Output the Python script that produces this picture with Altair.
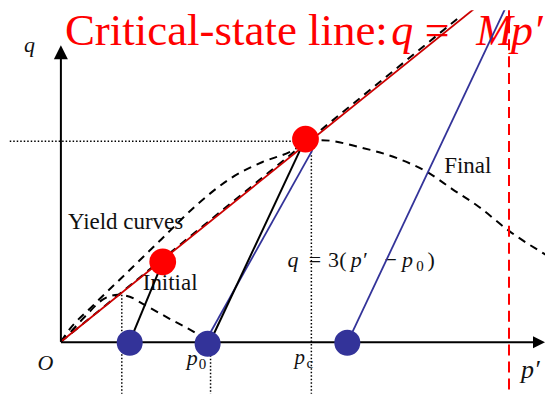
import altair as alt
import pandas as pd

# ---------------- diagram frame (p' horizontal, q vertical) ----------------
X_DOMAIN = [-0.3605, 3.2993]
Y_DOMAIN = [-0.5049, 3.2233]

# critical-state line q = M p'
csl_p = [0.0, 2.87]
csl_q = [0.0, 3.30]
# dashed guide lying on the CSL
csl_guide_p = [0.0, 2.714]
csl_guide_q = [0.0, 3.155]

# large (final) yield curve
big_yield_p = [0.0, 0.041, 0.231, 0.456, 0.687, 0.925, 1.150, 1.374, 1.558, 1.646,
               1.776, 2.034, 2.306, 2.497, 2.667, 2.850, 3.054, 3.306]
big_yield_q = [0.0, 0.087, 0.369, 0.680, 1.000, 1.330, 1.583, 1.748, 1.845, 1.913,
               1.961, 1.893, 1.777, 1.650, 1.485, 1.311, 1.078, 0.845]

# small (initial) yield curve
small_yield_p = [0.0, 0.048, 0.163, 0.293, 0.388, 0.469, 0.558, 0.741, 0.925, 1.0]
small_yield_q = [0.0, 0.068, 0.243, 0.417, 0.456, 0.437, 0.369, 0.223, 0.078, 0.0]

# stress paths (start -> end)
black_path_p = [0.469, 1.014]
black_path_q = [0.0, -0.01]
black_path_p2 = [0.694, 1.646]
black_path_q2 = [0.777, 1.913]

blue_path_p = [0.980, 1.952]
blue_path_q = [-0.01, -0.01]
blue_path_p2 = [1.714, 3.048]
blue_path_q2 = [1.864, 3.301]

# dotted guides
dot_p = [-0.42, 0.415, 1.020, 1.707]
dot_q = [1.951, 0.456, -0.03, 1.95]
dot_p2 = [1.62, 0.415, 1.020, 1.707]
dot_q2 = [1.951, -0.63, -0.63, -0.63]

# red dashed vertical
red_v_p = [3.054]
red_v_q = [-0.63]
red_v_q2 = [3.30]

# axes
axis_p = [0.0, 0.0]
axis_q = [0.0, -0.005]
axis_p2 = [0.0, 3.24]
axis_q2 = [2.80, -0.005]

# points
red_pts_p = [0.694, 1.667]
red_pts_q = [0.777, 1.971]
blue_pts_p = [0.469, 1.0, 1.952]
blue_pts_q = [-0.01, -0.02, -0.01]

# ---------------- text ----------------
title_text = ["Critical-state line:"]
title_p = [0.0272]
title_q = [2.8835]

title_it_text = ["q", "M", "p\u2032"]
title_it_p = [2.2517, 2.830, 3.068]
title_it_q = [2.8835, 2.8835, 2.8835]

title_up_text = ["="]
title_up_p = [2.5646]
title_up_q = [2.8835]

word_text = ["Yield curves", "Initial", "Final"]
word_p = [0.0476, 0.5578, 2.612]
word_q = [1.0971, 0.5049, 1.6408]

it_text = ["q", "O", "p", "p", "p\u2032", "q", "p\u2032", "p"]
it_p = [-0.2517, -0.160, 0.857, 1.592, 3.136, 1.5442, 1.975, 2.325]
it_q = [2.8155, -0.2718, -0.2233, -0.2136, -0.3495, 0.7282, 0.7282, 0.7282]
it_size = [22, 22, 22, 21, 26, 22, 22, 22]

up_text = ["=", "3", "(", "\u2212", ")"]
up_p = [1.7313, 1.8571, 1.9218, 2.2483, 2.5238]
up_q = [0.7282, 0.7282, 0.7282, 0.7282, 0.7282]

sub_text = ["0", "c", "0"]
sub_p = [0.939, 1.673, 2.4218]
sub_q = [-0.262, -0.252, 0.6893]

xs = alt.Scale(domain=X_DOMAIN, nice=False, zero=False)
ys = alt.Scale(domain=Y_DOMAIN, nice=False, zero=False)
X = alt.X("p:Q", scale=xs, axis=None)
Y = alt.Y("q:Q", scale=ys, axis=None)
X2 = alt.X2("p2:Q")
Y2 = alt.Y2("q2:Q")

SERIF = "Liberation Serif"


def seg_df(p, q, p2, q2):
    return pd.DataFrame({"p": p, "q": q, "p2": p2, "q2": q2})


layers = []

# text first (lines drawn over it)
layers.append(alt.Chart(pd.DataFrame({"p": title_p, "q": title_q, "t": title_text})).mark_text(
    align="left", baseline="alphabetic", font=SERIF, fontSize=45, color="#ff0000"
).encode(x=X, y=Y, text="t:N"))
layers.append(alt.Chart(pd.DataFrame({"p": title_it_p, "q": title_it_q, "t": title_it_text})).mark_text(
    align="left", baseline="alphabetic", font=SERIF, fontSize=44, fontStyle="italic", color="#ff0000"
).encode(x=X, y=Y, text="t:N"))
layers.append(alt.Chart(pd.DataFrame({"p": title_up_p, "q": title_up_q, "t": title_up_text})).mark_text(
    align="center", baseline="alphabetic", font=SERIF, fontSize=44, color="#ff0000"
).encode(x=X, y=Y, text="t:N"))
layers.append(alt.Chart(pd.DataFrame({"p": word_p, "q": word_q, "t": word_text})).mark_text(
    align="left", baseline="alphabetic", font=SERIF, fontSize=23, color="#111111"
).encode(x=X, y=Y, text="t:N"))
layers.append(alt.Chart(pd.DataFrame({"p": it_p, "q": it_q, "t": it_text, "s": it_size})).mark_text(
    align="left", baseline="alphabetic", font=SERIF, fontStyle="italic", color="#111111"
).encode(x=X, y=Y, text="t:N", size=alt.Size("s:Q", scale=None, legend=None)))
layers.append(alt.Chart(pd.DataFrame({"p": up_p, "q": up_q, "t": up_text})).mark_text(
    align="center", baseline="alphabetic", font=SERIF, fontSize=22, color="#111111"
).encode(x=X, y=Y, text="t:N"))
layers.append(alt.Chart(pd.DataFrame({"p": sub_p, "q": sub_q, "t": sub_text})).mark_text(
    align="left", baseline="alphabetic", font=SERIF, fontSize=15, color="#111111"
).encode(x=X, y=Y, text="t:N"))

# dotted guides
layers.append(alt.Chart(seg_df(dot_p, dot_q, dot_p2, dot_q2)).mark_rule(
    color="#000000", strokeWidth=1.5, strokeDash=[1.5, 2], clip=True
).encode(x=X, y=Y, x2=X2, y2=Y2))

# yield curves (dashed)
layers.append(alt.Chart(pd.DataFrame({"p": big_yield_p, "q": big_yield_q})).mark_line(
    color="#000000", strokeWidth=2, strokeDash=[8, 6], interpolate="monotone", clip=True
).encode(x=X, y=Y))
layers.append(alt.Chart(pd.DataFrame({"p": small_yield_p, "q": small_yield_q})).mark_line(
    color="#000000", strokeWidth=2, strokeDash=[8, 6], interpolate="monotone"
).encode(x=X, y=Y))
layers.append(alt.Chart(pd.DataFrame({"p": csl_guide_p, "q": csl_guide_q})).mark_line(
    color="#000000", strokeWidth=2, strokeDash=[8, 6]
).encode(x=X, y=Y))

# CSL
layers.append(alt.Chart(pd.DataFrame({"p": csl_p, "q": csl_q})).mark_line(
    color="#cc0000", strokeWidth=1.8, clip=True
).encode(x=X, y=Y))

# stress paths
layers.append(alt.Chart(seg_df(blue_path_p, blue_path_q, blue_path_p2, blue_path_q2)).mark_rule(
    color="#333399", strokeWidth=1.8, clip=True
).encode(x=X, y=Y, x2=X2, y2=Y2))
layers.append(alt.Chart(seg_df(black_path_p, black_path_q, black_path_p2, black_path_q2)).mark_rule(
    color="#000000", strokeWidth=2
).encode(x=X, y=Y, x2=X2, y2=Y2))

# red dashed vertical
layers.append(alt.Chart(pd.DataFrame({"p": red_v_p, "q": red_v_q, "q2": red_v_q2})).mark_rule(
    color="#ff0000", strokeWidth=2, strokeDash=[11, 6], clip=True
).encode(x=X, y=Y, y2=Y2))

# axes
layers.append(alt.Chart(seg_df(axis_p, axis_q, axis_p2, axis_q2)).mark_rule(
    color="#000000", strokeWidth=2
).encode(x=X, y=Y, x2=X2, y2=Y2))
layers.append(alt.Chart(pd.DataFrame({"p": [0.0], "q": [2.8155]})).mark_point(
    shape="M0,-1L1,1L-1,1Z", size=196, filled=True, color="#000000", opacity=1
).encode(x=X, y=Y))
layers.append(alt.Chart(pd.DataFrame({"p": [3.2585], "q": [-0.005]})).mark_point(
    shape="M-1,-1L1,0L-1,1Z", size=144, filled=True, color="#000000", opacity=1
).encode(x=X, y=Y))

# state points
layers.append(alt.Chart(pd.DataFrame({"p": blue_pts_p, "q": blue_pts_q})).mark_circle(
    size=680, color="#333399", opacity=1
).encode(x=X, y=Y))
layers.append(alt.Chart(pd.DataFrame({"p": red_pts_p, "q": red_pts_q})).mark_circle(
    size=720, color="#ff0000", opacity=1
).encode(x=X, y=Y))

chart = alt.layer(*layers).properties(
    width=538, height=384, padding=0
).configure_view(stroke=None)

chart.save("out.html", embed_options={"renderer": "svg", "actions": False})
